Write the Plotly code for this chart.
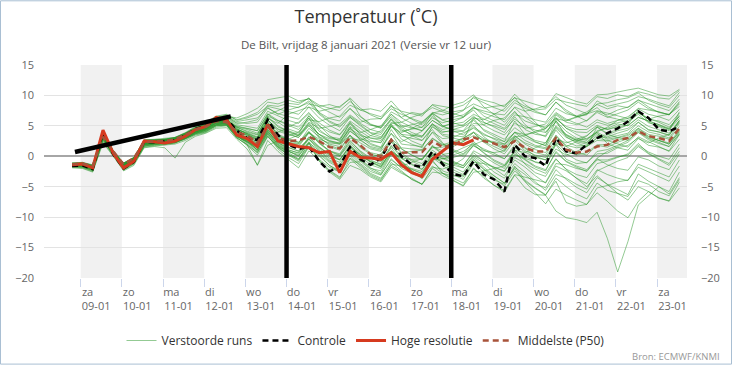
import plotly.graph_objects as go
import pandas as pd

# ---------------- data ----------------
times = pd.date_range("2021-01-08 19:00", periods=60, freq="6h")

hires = [-1.4, -1.25, -1.9, 4.3, 0.5, -1.9, -0.8, 2.5, 2.4, 2.2,
         2.5, 3.3, 4.4, 4.9, 6.4, 6.0, 3.5, 2.9, 1.6, 5.2,
         2.5, 2.0, 1.6, 1.4, 0.6, 0.8, -2.7, 0.8, -0.2, -0.3,
         -0.5, 0.6, -1.4, -2.7, -3.3, -0.5, 0.8, 2.2, 1.9, 2.7]

control = [-1.6, -1.5, -2.1, 3.9, 0.3, -2.0, -0.9, 2.4, 2.3, 2.4, 2.6, 3.4, 4.5, 5.0, 6.2, 6.1, 4.2,
           3.0, 2.7, 6.0, 3.5, 1.9, 1.2, 1.6, -0.8, -2.5, -1.6, 1.5, -0.5, -1.4, -0.3, 2.6, 0.0,
           -1.4, -1.8, 0.8, -1.3, -2.9, -3.3, -0.8, -3.0, -3.8, -5.8, 1.9, 0.0, -0.3, -1.6, 3.0,
           0.8, 0.5, 1.9, 3.0, 3.8, 4.6, 5.7, 7.4, 6.3, 4.4, 4.1, 4.9]

median = [-1.3, -1.2, -1.6, 3.2, 0.8, -1.3, -0.3, 2.3, 2.5, 2.5, 2.8, 3.5, 4.4, 4.9, 5.8, 5.6, 4.0,
          3.4, 2.2, 5.0, 3.0,
          2.5, 2.6, 3.2, 2.5, 1.5, 1.3, 3.0, 1.8, 0.3, 0.0, 2.7, 0.6, 0.6, 0.7, 2.5, 1.5, 1.7,
          2.8, 3.1, 2.5, 2.1, 1.5, 2.5, 1.4, 0.8, 0.8, 3.0, 1.1, 0.6, 0.8, 1.6, 1.9, 2.7, 3.0,
          4.1, 3.3, 3.0, 2.5, 4.6]

m01 = [-1.2,-1.0,-1.5,3.8, 0.9,-1.2,-0.2,2.6, 2.6,2.8,3.0,3.8, 4.8,5.5,6.4,6.8, 6.0,6.5,7.2,8.9,
       8.6,9.2,8.8,9.5, 8.4,7.9,7.5,9.0, 7.6,7.0,6.5,8.2, 7.4,7.0,6.6,8.5, 8.2,7.9,8.4,9.6,
       8.8,8.0,7.4,9.2, 8.2,7.6,7.8,9.4, 8.9,8.5,8.2,9.8, 9.5,10.1,9.8,10.6, 10.2,9.6,9.4,10.8]
m02 = [-1.6,-1.5,-2.0,3.2, 0.4,-1.8,-0.7,2.1, 2.2,2.3,2.6,3.3, 4.2,4.6,5.6,5.9, 4.8,4.0,3.5,6.8,
       7.5,8.3,8.0,9.1, 7.2,6.2,5.8,7.9, 6.0,5.1,4.8,7.3, 6.4,7.2,6.9,8.0, 7.3,6.8,7.5,9.8,
       9.2,8.8,8.1,10.2, 8.5,7.4,6.8,8.9, 7.3,6.5,6.8,9.1, 8.2,8.6,9.0,9.8, 9.4,8.8,8.3,10.5]
m03 = [-1.3,-1.4,-1.9,3.6, 0.7,-1.4,-0.4,2.4, 2.5,2.5,2.8,3.5, 4.4,5.0,6.1,5.8, 4.5,3.8,3.0,6.2,
       5.4,6.9,7.5,8.1, 6.3,5.1,4.2,6.4, 5.2,3.9,3.6,6.0, 4.1,4.4,4.8,6.3, 5.5,6.0,6.4,7.6,
       5.6,4.8,3.9,6.5, 4.4,3.6,3.4,6.8, 5.6,5.2,5.9,7.4, 6.8,7.6,8.1,9.3, 8.1,7.2,6.9,9.0]
m04 = [-1.5,-1.7,-2.3,3.0, 0.3,-2.0,-1.0,1.8, 2.0,2.1,2.3,3.0, 3.9,4.3,5.2,5.4, 3.4,2.2,0.8,3.6,
       1.5,0.2,-0.8,1.6, -0.5,-1.8,-2.6,0.4, -1.2,-2.5,-3.1,-0.4, -2.0,-2.8,-3.5,-0.9, -2.4,-3.0,-3.8,-1.2,
       -2.6,-3.9,-4.6,-1.8, -3.0,-4.5,-5.2,-2.2, -3.8,-5.1,-6.0,-3.5, -4.6,-5.5,-6.3,-2.9, -4.1,-5.0,-5.8,-2.6]
m05 = [-1.7,-1.8,-2.4,2.6, 0.2,-2.2,-1.2,1.6, 1.8,1.9,2.2,2.9, 3.6,4.0,5.0,5.1, 3.2,2.5,1.4,4.0,
       2.4,1.1,0.5,2.8, 0.9,-0.6,-1.4,1.2, -0.4,-1.9,-2.8,0.3, -1.5,-2.6,-3.4,-0.6, -2.8,-3.9,-4.8,-1.9,
       -3.6,-4.8,-5.9,-3.1, -5.2,-6.3,-6.4,-9.0, -10.1,-10.4,-10.9,-9.2, -13.5,-19.0,-14.0,-8.0, -6.5,-5.0,-6.2,-3.5]
m06 = [-1.4,-1.6,-2.1,3.3, 0.5,-1.6,-0.8,2.0, 2.3,2.2,2.5,3.1, 4.0,4.4,5.4,5.6, 3.8,2.9,1.8,4.4,
       2.2,1.0,0.6,3.1, 1.5,0.2,-0.5,1.8, 0.3,-1.0,-1.8,0.9, -0.8,-2.1,-2.9,-0.2, -1.5,-2.6,-3.2,-0.5,
       -2.1,-3.3,-4.4,-1.6, -3.9,-5.2,-6.3,-4.1, -7.6,-8.2,-7.9,-6.0, -7.4,-9.0,-10.1,-7.4, -5.8,-6.9,-7.3,-4.2]
m07 = [-1.1,-1.2,-1.6,3.9, 0.8,-1.1,-0.3,2.5, 2.6,2.7,2.9,3.6, 4.5,5.1,5.9,6.2, 4.6,3.6,2.6,6.0,
       4.1,3.6,3.1,5.4, 3.6,2.4,2.0,4.2, 2.8,1.4,1.0,4.4, 2.0,1.8,1.6,4.0, 2.9,3.1,3.8,4.6,
       3.5,3.0,2.4,3.9, 2.6,1.8,1.4,4.3, 2.4,1.7,1.8,3.0, 3.2,3.8,4.3,5.6, 4.3,4.0,3.4,5.9]
m08 = [-1.5,-1.3,-1.7,3.4, 0.6,-1.4,-0.6,2.2, 2.4,2.3,2.6,3.2, 4.1,4.7,5.7,5.5, 3.9,3.1,1.6,5.3,
       2.6,1.9,1.4,2.8, 1.4,0.4,0.0,2.1, 0.6,-0.8,-1.2,1.8, -0.3,-0.5,-0.4,1.6, 0.3,0.6,1.4,2.1,
       1.2,0.5,-0.4,1.5, 0.1,-1.0,-1.4,1.9, -0.5,-1.2,-1.0,0.4, 0.5,1.4,1.8,3.0, 1.8,1.5,0.9,3.6]
m09 = [-1.3,-1.1,-1.6,3.7, 0.7,-1.3,-0.4,2.6, 2.7,2.8,3.1,3.9, 4.9,5.6,6.6,6.9, 5.9,6.3,6.9,8.2,
       7.8,7.4,6.9,8.6, 8.2,8.5,8.0,9.6, 7.9,6.8,6.1,8.4, 6.3,5.4,4.7,7.1, 7.5,8.4,8.9,10.1,
       8.1,6.9,5.6,7.4, 5.2,3.9,3.2,5.8, 4.1,3.0,2.6,4.2, 4.6,5.3,5.0,6.4, 5.8,5.2,4.6,6.8]
m10 = [-1.6,-1.4,-2.0,3.1, 0.4,-1.7,-0.7,2.0, 2.1,2.2,2.4,3.1, 4.0,4.5,5.5,5.3, 3.5,2.6,1.0,4.2,
       1.8,0.6,-0.4,2.0, 0.2,-1.5,-2.6,-0.3, -1.4,-2.8,-3.6,-1.0, -2.4,-3.8,-4.6,-1.8, -2.1,-1.5,-0.4,1.9,
       2.6,2.2,1.8,3.9, 3.6,3.9,4.5,6.2, 5.8,6.4,6.9,7.5, 7.1,6.6,6.2,7.9, 7.6,7.3,6.8,8.6]
m11 = [-1.2,-1.5,-2.1,3.5, 0.6,-1.6,-0.6,2.3, 2.5,2.6,2.8,3.4, 4.3,4.9,5.9,5.7, 4.2,3.4,2.3,5.1,
       3.9,4.8,5.6,7.2, 5.1,3.4,2.4,4.5, 3.1,1.9,1.4,3.8, 1.2,0.2,-0.6,1.8, 0.4,-0.8,-1.6,0.9,
       0.0,-1.1,-2.0,1.0, 0.6,1.4,2.2,4.8, 3.4,2.6,2.9,4.0, 4.8,5.9,6.2,7.1, 6.2,5.6,4.8,6.5]
m12 = [-1.4,-1.3,-1.8,3.5, 0.6,-1.5,-0.5,2.3, 2.4,2.5,2.7,3.4, 4.4,4.9,5.8,5.9, 4.3,3.2,2.4,5.6,
       3.4,2.8,3.5,5.6, 4.6,4.9,5.3,6.8, 5.6,6.1,6.2,7.8, 6.9,6.2,5.6,7.2, 6.8,7.3,7.6,8.6,
       7.9,8.2,8.4,9.6, 9.1,8.6,8.0,10.3, 9.6,9.0,8.6,10.1, 10.2,10.6,10.9,11.2, 10.6,10.1,9.9,11.0]
m13 = [-1.8,-1.9,-2.5,2.4, 0.1,-2.3,-1.3,1.5, 1.7,1.8,2.0,2.6, 3.5,3.9,4.8,5.0, 3.0,2.0,0.6,3.4,
       1.2,-0.2,-1.2,1.5, 0.6,-0.8,-1.6,1.0, -0.6,-2.0,-2.4,0.5, -1.4,-2.2,-2.8,0.2, -0.4,0.2,0.8,2.0,
       0.5,-0.8,-1.6,0.8, -1.3,-2.7,-3.3,-0.5, -2.1,-3.0,-3.5,-1.2, -0.8,-0.2,0.4,2.1, 0.5,-0.4,-1.2,1.4]
m14 = [-1.3,-1.2,-1.7,3.6, 0.7,-1.3,-0.4,2.4, 2.5,2.4,2.7,3.5, 4.4,4.8,5.9,6.0, 4.4,3.9,3.2,6.6,
       5.8,5.1,4.4,6.3, 4.1,3.2,2.9,5.3, 3.7,2.6,2.2,4.9, 3.3,2.9,2.6,4.8, 3.9,4.4,4.9,5.9,
       4.4,3.6,2.8,4.7, 3.5,2.6,2.2,5.0, 3.6,2.8,2.3,3.7, 2.8,3.1,3.6,5.0, 4.0,3.6,3.0,5.4]
m15 = [-1.5,-1.4,-1.9,3.3, 0.5,-1.6,-0.7,2.2, 2.3,2.4,2.6,3.3, 4.2,4.6,5.6,5.7, 3.7,3.0,2.1,4.8,
       2.9,2.2,1.6,3.8, 2.2,0.9,0.2,2.6, 0.8,-0.6,-1.4,1.4, -0.9,-2.4,-3.7,-1.6, -2.8,-3.6,-4.4,-2.1,
       -3.3,-4.8,-5.6,-3.0, -3.4,-3.9,-4.3,-1.2, -1.4,-2.0,-2.4,-0.3, 0.8,1.6,2.3,3.9, 2.7,2.1,1.6,3.8]
m16 = [-1.1,-1.0,-1.4,3.9, 0.9,-1.1,-0.2,2.7, 2.8,2.9,3.1,3.8, 4.7,5.4,6.4,6.6, 6.3,7.0,7.9,9.3,
       9.6,9.9,9.1,9.4, 8.1,7.2,6.4,7.8, 6.5,5.2,4.6,6.9, 5.1,4.6,4.2,6.6, 5.0,5.3,5.6,6.9,
       6.1,5.3,4.6,6.8, 6.5,6.0,5.6,7.9, 7.0,6.6,7.3,8.5, 7.8,8.3,8.0,9.2, 8.6,8.0,7.5,9.4]
m17 = [-1.9,-2.0,-2.6,2.2, 0.0,-2.4,-1.5,1.4, 1.6,1.4,-0.3,2.3, 3.3,3.8,4.6,4.7, 2.8,1.2,-1.4,2.6,
       0.8,-0.6,-1.9,0.9, -0.8,-2.4,-3.6,-0.4, -1.9,-3.2,-4.0,-1.3, -1.6,-1.0,-0.4,1.4, 1.5,2.2,2.9,4.0,
       2.9,2.1,1.4,3.4, 2.0,1.1,0.6,3.5, 1.6,0.6,0.2,1.8, 1.5,2.3,2.9,4.6, 3.3,2.6,2.0,4.0]
m18 = [-1.2,-1.2,-1.7,3.7, 0.8,-1.2,-0.3,2.5, 2.6,2.7,3.0,3.7, 4.6,5.2,6.2,6.4, 5.2,4.9,4.6,7.4,
       6.6,5.9,5.4,7.0, 5.5,4.3,3.6,5.8, 4.6,3.4,3.0,5.6, 4.8,5.2,5.6,7.0, 5.9,5.5,5.0,6.6,
       5.1,4.2,3.5,5.4, 4.6,4.9,5.3,7.2, 6.1,5.4,4.8,6.0, 5.4,5.9,6.5,7.8, 6.9,6.5,5.9,7.7]
m19 = [-1.6,-1.7,-2.2,3.0, 0.3,-1.9,-0.9,1.9, 2.1,2.0,2.3,2.9, 3.8,4.2,5.1,5.2, 3.1,1.8,0.2,3.2,
       1.6,0.8,0.3,2.4, 0.4,-1.0,-1.9,0.6, -0.8,-2.2,-3.0,-0.6, -1.8,-2.0,-2.5,-0.2, -1.0,-1.4,-1.9,0.2,
       -0.8,-2.0,-3.2,-0.6, -1.8,-3.2,-4.4,-1.6, -2.4,-3.6,-4.5,-2.2, -3.0,-3.6,-4.0,-1.3, -2.0,-2.8,-3.4,-0.6]
m20 = [-1.3,-1.4,-1.9,3.4, 0.6,-1.5,-0.6,2.3, 2.4,2.5,2.8,3.5, 4.3,4.9,5.9,5.9, 4.9,4.6,4.2,6.9,
       5.6,4.5,3.9,6.0, 5.7,6.3,6.6,8.4, 7.6,7.8,7.4,9.1, 7.2,6.1,5.2,6.9, 5.0,4.2,3.5,5.1,
       3.2,2.0,1.1,2.9, 1.3,0.0,-0.6,2.0, 0.4,-0.6,-1.1,0.8, 1.1,1.8,2.6,4.2, 3.2,2.6,2.0,4.1]
m21 = [-1.4,-1.5,-2.0,3.2, 0.5,-1.7,-0.8,2.1, 2.2,2.3,2.5,3.2, 4.1,4.6,5.5,5.6, 3.6,1.9,-1.5,1.8,
       2.6,3.3,4.0,6.3, 3.2,1.8,1.2,3.5, 1.6,0.6,0.2,2.8, 0.6,0.8,1.0,3.0, 1.9,2.4,3.0,3.9,
       2.3,1.2,0.4,2.6, 0.9,0.2,-0.2,2.4, 0.8,0.2,0.6,1.9, 1.9,2.6,3.1,4.4, 3.0,2.6,2.2,4.3]
m22 = [-1.2,-1.1,-1.5,3.8, 0.8,-1.2,-0.3,2.6, 2.7,2.7,3.0,3.7, 4.6,5.3,6.3,6.5, 5.5,5.4,5.6,7.9,
       7.0,6.6,6.1,8.1, 7.4,7.8,8.2,9.4, 6.6,5.3,4.7,6.5, 4.9,3.9,3.3,5.4, 3.6,3.4,3.2,4.8,
       3.7,2.8,2.0,4.0, 3.2,2.3,1.8,4.6, 3.1,2.4,2.0,3.4, 3.5,4.2,4.6,6.0, 4.9,4.4,3.8,5.9]
m23 = [-1.5,-1.4,-1.8,3.4, 0.6,-1.5,-0.6,2.3, 2.4,2.4,2.6,3.3, 4.2,4.7,5.7,5.8, 4.1,3.5,2.9,5.6,
       3.6,2.9,2.3,4.1, 2.3,0.9,0.4,3.0, 2.6,3.4,4.2,6.1, 4.6,3.4,2.6,4.4, 2.2,0.9,0.0,1.7,
       0.9,0.6,0.9,3.2, 3.4,4.1,4.6,6.4, 4.6,3.6,2.8,3.9, 2.1,1.4,1.0,2.9, 2.2,3.0,3.6,5.6]
m24 = [-1.7,-1.6,-2.2,2.9, 0.3,-1.9,-1.0,1.8, 2.0,2.1,2.3,3.0, 3.8,4.3,5.2,5.3, 3.3,2.4,1.3,3.9,
       2.0,0.9,0.0,2.3, -0.8,-2.6,-3.8,-1.5, -2.2,-3.4,-4.2,-1.8, -2.8,-3.6,-4.6,-2.0, -3.2,-4.0,-4.9,-2.6,
       -2.4,-2.0,-1.6,0.4, -0.6,-1.8,-2.4,0.8, -0.8,-1.6,-2.2,-0.4, -1.4,-2.0,-2.3,-0.1, -0.6,-1.6,-2.2,0.4]
m25 = [-1.3,-1.3,-1.8,3.5, 0.6,-1.4,-0.5,2.4, 2.5,2.5,2.8,3.5, 4.4,4.9,5.9,5.8, 4.4,3.7,2.7,5.9,
       4.5,3.9,3.4,5.1, 3.0,2.0,1.6,4.1, 2.9,2.4,2.3,4.9, 3.9,4.6,5.4,7.1, 6.0,6.4,6.8,8.0,
       7.1,6.5,6.0,8.1, 7.4,7.8,8.3,9.8, 8.4,7.7,7.0,8.6, 8.8,9.3,9.6,10.4, 9.2,8.5,8.0,10.0]
m26 = [-1.4,-1.2,-1.7,3.6, 0.7,-1.4,-0.5,2.4, 2.5,2.6,2.9,3.6, 4.5,5.0,6.0,6.1, 4.7,4.2,3.6,6.4,
       4.8,4.2,3.6,6.7, 4.4,3.1,2.6,5.6, 3.5,2.1,1.5,5.2, 2.8,2.0,1.4,5.0, 3.4,3.0,2.6,6.2,
       4.2,3.3,2.4,5.8, 3.6,2.4,1.7,5.9, 3.2,2.2,1.6,4.8, 3.8,4.4,5.2,7.6, 5.6,4.9,4.2,7.3]
m27 = [-1.6,-1.5,-2.0,3.2, 0.4,-1.8,-0.8,2.0, 2.2,2.2,2.4,3.1, 4.0,4.5,5.4,5.5, 3.5,2.7,1.6,4.5,
       2.5,1.5,0.8,3.2, 1.6,0.3,-0.6,1.7, 0.2,-0.9,-1.6,0.8, -0.4,-1.3,-2.1,0.2, -1.1,-2.2,-3.0,-0.6,
       -2.2,-3.6,-4.9,-2.4, -4.1,-5.3,-6.4,-3.6, -5.0,-6.2,-7.0,-4.4, -5.6,-6.1,-6.6,-4.0, -4.6,-5.8,-6.5,-3.8]
m28 = [-1.3,-1.3,-1.7,3.5, 0.7,-1.4,-0.5,2.3, 2.4,2.5,2.7,3.4, 4.3,4.8,5.8,5.7, 4.2,3.5,2.6,5.2,
       3.2,2.7,2.3,3.9, 2.8,2.2,2.0,3.4, 2.2,1.2,0.8,2.9, 1.4,1.2,1.1,2.9, 1.8,2.0,2.4,3.4,
       2.7,2.4,2.0,3.3, 2.2,1.6,1.2,3.3, 1.8,1.4,1.6,2.6, 2.5,3.0,3.4,4.6, 3.6,3.3,2.8,4.9]
m29 = [-1.2,-1.3,-1.8,3.6, 0.7,-1.3,-0.4,2.5, 2.6,2.6,2.9,3.6, 4.5,5.0,6.0,6.1, 4.8,4.4,3.8,6.5,
       5.0,4.1,3.4,5.4, 3.6,2.6,2.1,4.6, 3.4,3.0,2.9,5.4, 5.6,6.4,7.0,8.4, 7.6,7.0,6.5,8.2,
       6.6,5.8,5.1,7.2, 5.8,5.2,4.8,7.0, 5.9,6.5,7.0,8.0, 6.5,6.1,5.6,7.4, 6.1,6.6,6.9,8.2]
m30 = [-1.5,-1.6,-2.1,3.1, 0.4,-1.8,-0.9,2.0, 2.1,2.2,2.4,3.1, 3.9,4.4,5.3,5.4, 3.4,2.6,1.6,4.1,
       2.2,1.4,0.9,2.9, 1.2,0.0,-0.6,1.6, 0.0,-1.4,-2.0,0.6, -1.0,-2.4,-3.4,-0.6, -0.4,-0.2,0.3,1.8,
       0.6,-0.6,-1.4,1.0, -0.5,-1.6,-2.2,0.6, -0.9,-1.8,-2.5,-0.6, -0.6,-0.1,0.2,1.8, 0.7,0.0,-0.5,2.0]
m31 = [-1.4,-1.3,-1.8,3.4, 0.6,-1.5,-0.5,2.3, 2.4,2.4,2.7,3.4, 4.3,4.8,5.8,5.8, 4.0,3.0,2.2,5.6,
       3.4,2.6,2.1,4.6, 3.2,2.5,2.2,4.8, 2.6,1.6,1.2,3.7, 2.4,3.2,4.1,5.9, 4.9,4.4,4.2,6.3,
       6.0,6.9,7.8,9.7, 7.4,5.6,4.0,5.6, 3.5,2.6,2.2,4.0, 3.0,3.4,3.8,5.6, 4.4,4.0,3.5,5.8]
m32 = [-1.6,-1.8,-2.3,2.8, 0.2,-2.1,-1.2,1.7, 1.9,2.0,2.2,2.8, 3.7,4.1,5.0,5.2, 3.2,2.3,1.1,3.7,
       1.9,0.8,0.1,2.2, 0.9,-0.3,-1.0,1.4, 0.3,-0.9,-1.7,0.9, -0.3,-1.4,-2.2,0.4, -0.9,-1.8,-2.6,-0.2,
       -1.8,-3.2,-4.4,-2.0, -4.2,-6.0,-7.8,-5.4, -6.4,-7.2,-7.9,-5.2, -4.8,-4.2,-3.9,-1.8, -2.6,-3.4,-4.1,-1.6]
m33 = [-1.3,-1.2,-1.6,3.7, 0.8,-1.2,-0.3,2.6, 2.6,2.6,2.9,3.6, 4.5,5.1,6.1,6.3, 5.0,4.6,4.2,7.0,
       5.9,5.3,4.8,6.6, 4.9,4.0,3.5,5.5, 4.1,3.0,2.6,5.0, 3.6,3.4,3.3,5.2, 4.1,4.0,4.1,5.4,
       5.2,5.9,6.3,8.0, 6.4,5.3,4.6,6.3, 4.6,4.0,3.9,5.1, 4.4,5.0,5.6,6.9, 5.5,5.0,4.5,6.6]
m34 = [-1.7,-1.7,-2.3,2.7, 0.2,-2.1,-1.1,1.7, 1.9,2.0,2.2,2.9, 3.7,4.1,5.1,5.1, 3.0,1.9,0.6,3.3,
       1.4,0.3,-0.5,1.6, 0.0,-1.5,-2.4,0.1, -1.6,-3.0,-3.8,-1.5, -2.6,-3.8,-4.6,-2.6, -2.8,-3.2,-3.4,-1.0,
       -1.2,-1.8,-2.4,0.2, -0.4,-0.9,-1.3,1.2, 0.2,0.8,1.6,3.0, 2.6,2.0,1.5,3.2, 2.4,1.6,0.8,2.8]
m35 = [-1.2,-1.1,-1.5,3.9, 0.9,-1.1,-0.2,2.7, 2.7,2.8,3.1,3.8, 4.7,5.3,6.3,6.6, 5.7,6.0,6.3,8.0,
       6.9,7.6,8.1,8.8, 6.9,5.6,4.8,6.4, 5.0,3.8,3.2,5.3, 3.6,2.5,1.8,3.9, 2.0,1.1,0.4,2.4,
       1.0,0.2,-0.4,1.9, 0.7,-0.2,-0.6,2.1, 1.6,2.4,3.3,4.9, 4.4,4.8,5.1,6.4, 5.8,5.2,4.4,6.2]
m36 = [-1.5,-1.5,-2.0,3.1, 0.4,-1.8,-0.8,2.0, 2.2,2.3,2.5,3.2, 4.0,4.5,5.5,5.5, 3.6,2.8,1.9,4.7,
       3.0,2.3,1.8,3.9, 2.5,1.6,1.0,3.4, 1.4,0.4,-0.1,2.3, 0.5,-0.6,-1.2,1.0, -0.2,-1.0,-1.5,0.6,
       -0.9,-1.8,-2.5,-0.2, -1.2,-2.1,-2.8,-0.4, -2.2,-3.6,-5.0,-3.2, -4.6,-6.1,-7.2,-5.0, -5.8,-6.8,-7.4,-5.2]
m37 = [-1.3,-1.4,-1.9,3.5, 0.6,-1.5,-0.6,2.3, 2.4,2.4,2.7,3.4, 4.3,4.8,5.8,5.8, 4.4,3.8,3.1,6.0,
       4.4,3.7,3.1,5.0, 3.6,2.9,2.7,4.9, 3.9,4.4,5.0,6.9, 5.6,4.8,4.2,5.9, 4.8,5.6,6.4,7.9,
       7.4,7.0,6.8,8.8, 7.9,7.2,6.8,8.9, 7.6,6.6,5.8,7.2, 6.4,7.0,7.6,8.9, 7.8,7.3,6.8,8.8]
m38 = [-1.4,-1.6,-2.1,3.1, 0.4,-1.7,-0.8,2.0, 2.2,2.3,2.5,3.1, 4.0,4.5,5.4,5.5, 3.5,2.4,1.0,3.8,
       1.6,0.4,-0.6,2.2, -0.6,-2.3,-3.4,-1.0, -0.9,-0.2,0.4,2.4, 1.2,0.2,-0.6,1.6, 0.9,1.6,2.4,3.9,
       2.4,1.6,0.8,3.1, 1.4,0.6,0.2,2.9, 2.2,2.8,3.4,4.8, 3.6,3.1,2.6,4.0, 2.9,2.3,1.6,3.6]
m39 = [-1.1,-1.2,-1.6,3.8, 0.8,-1.2,-0.3,2.5, 2.6,2.7,3.0,3.7, 4.6,5.2,6.2,6.5, 5.4,5.6,6.0,8.4,
       8.2,8.7,8.5,9.6, 7.1,5.8,5.0,6.6, 5.4,4.4,3.9,6.2, 4.3,3.6,3.1,5.3, 4.4,4.8,5.2,6.4,
       5.5,5.0,4.4,6.1, 4.9,4.3,3.9,6.1, 4.9,4.4,4.4,5.6, 5.1,5.5,5.9,7.2, 6.1,5.8,5.2,7.1]
m40 = [-1.6,-1.5,-2.1,3.0, 0.3,-1.9,-1.0,1.9, 2.0,2.1,2.3,3.0, 3.8,4.3,5.2,5.3, 3.3,2.4,1.5,4.3,
       2.8,2.3,2.0,4.0, 2.1,0.8,0.1,2.4, 0.9,-0.3,-0.9,1.6, 0.2,-0.8,-1.6,0.6, -0.4,-1.1,-1.9,0.0,
       -1.2,-2.6,-3.6,-1.2, -2.6,-4.2,-5.6,-3.0, -3.6,-4.6,-5.4,-2.4, -1.6,-0.8,-0.2,1.6, 0.4,-0.6,-1.5,0.8]

members = [m01, m02, m03, m04, m05, m06, m07, m08, m09, m10,
           m11, m12, m13, m14, m15, m16, m17, m18, m19, m20,
           m21, m22, m23, m24, m25, m26, m27, m28, m29, m30,
           m31, m32, m33, m34, m35, m36, m37, m38, m39, m40]
for i, m in enumerate(members):
    assert len(m) == 60, (i + 1, len(m))

weekdays = ["za", "zo", "ma", "di", "wo", "do", "vr", "za", "zo", "ma", "di", "wo", "do", "vr", "za"]
day_labels = ["09-01", "10-01", "11-01", "12-01", "13-01", "14-01", "15-01", "16-01",
              "17-01", "18-01", "19-01", "20-01", "21-01", "22-01", "23-01"]
y_ticks = [-20, -15, -10, -5, 0, 5, 10, 15]

band_starts = ["2021-01-09", "2021-01-11", "2021-01-13", "2021-01-15",
               "2021-01-17", "2021-01-19", "2021-01-21", "2021-01-23"]

# hand-drawn annotation strokes
vline_x = ["2021-01-14 00:00", "2021-01-18 00:00"]
vline_y = [15, -20]
diag_x = ["2021-01-08 20:40", "2021-01-12 15:30"]
diag_y = [0.7, 6.55]

# ---------------- figure ----------------
FONT = "Open Sans, DejaVu Sans, sans-serif"
ens_color = "rgba(40,150,40,0.5)"

fig = go.Figure()
for i, m in enumerate(members):
    fig.add_trace(go.Scatter(x=times, y=m, mode="lines", name="Verstoorde runs",
                             legendgroup="ens", showlegend=(i == 0),
                             line=dict(color=ens_color, width=1), hoverinfo="skip"))

fig.add_trace(go.Scatter(x=times, y=control, mode="lines", name="Controle",
                         line=dict(color="#000000", width=2.5, dash="6px,4px")))
fig.add_trace(go.Scatter(x=times[:len(hires)], y=hires, mode="lines", name="Hoge resolutie",
                         line=dict(color="#d63a1f", width=3)))
fig.add_trace(go.Scatter(x=times, y=median, mode="lines", name="Middelste (P50)",
                         line=dict(color="#a8533a", width=2.5, dash="6px,4px")))

for vx in vline_x:
    fig.add_trace(go.Scatter(x=[vx, vx], y=vline_y, mode="lines", showlegend=False,
                             line=dict(color="#000000", width=4.5), hoverinfo="skip"))
fig.add_trace(go.Scatter(x=diag_x, y=diag_y, mode="lines", showlegend=False,
                         line=dict(color="#000000", width=4.5), hoverinfo="skip"))

# invisible trace to carry the right-hand axis
fig.add_trace(go.Scatter(x=[times[0]], y=[None], yaxis="y2", showlegend=False, hoverinfo="skip"))

shapes = []
for b in band_starts:
    s = pd.Timestamp(b)
    shapes.append(dict(type="rect", xref="x", yref="paper", x0=s, x1=s + pd.Timedelta(days=1),
                       y0=0, y1=1, fillcolor="#f1f1f1", line=dict(width=0), layer="below"))
# outer border of the chart
L, R, T, B, W, H = 44, 45, 65, 87, 732, 366
pw, ph = W - L - R, H - T - B
shapes.append(dict(type="rect", xref="paper", yref="paper",
                   x0=(0.5 - L) / pw, x1=(W - 0.5 - L) / pw,
                   y0=-(B - 0.5) / ph, y1=1 + (T - 0.5) / ph,
                   line=dict(color="#a9bfd3", width=1), layer="above"))

pad = {"za": 6, "zo": 6, "ma": 5, "di": 7, "wo": 5, "do": 6, "vr": 7}
tick_days = pd.date_range("2021-01-09", periods=len(day_labels), freq="D")
tickvals = [d + pd.Timedelta(hours=9) for d in tick_days]
ticktext = [f"{w}{chr(160) * pad[w]}<br>{d}" for w, d in zip(weekdays, day_labels)]

fig.update_layout(
    width=W, height=H,
    margin=dict(l=L, r=R, t=T, b=B),
    paper_bgcolor="white", plot_bgcolor="white",
    font=dict(family=FONT, color="#666666", size=11),
    title=dict(text="Temperatuur (˚C)", x=0.5, xanchor="center", y=1 - 17 / H, yanchor="middle",
               font=dict(size=18, color="#333333", family=FONT)),
    showlegend=True,
    legend=dict(orientation="h", x=0.5, xanchor="center", y=-(337 - 279 - 11) / ph, yanchor="top",
                font=dict(size=12, color="#333333", family=FONT), itemwidth=30,
                bgcolor="rgba(0,0,0,0)"),
    xaxis=dict(type="date", range=["2021-01-08 02:37", "2021-01-23 17:25"],
               tickmode="array", tickvals=tickvals, ticktext=ticktext, ticks="",
               ticklabelstandoff=6,
               showgrid=False, zeroline=False, showline=False,
               tickfont=dict(size=11, color="#666666", family=FONT),
               minor=dict(tickmode="array", tickvals=list(tick_days), ticks="outside",
                          ticklen=8, tickcolor="#ccd6eb", showgrid=False)),
    yaxis=dict(range=[-20, 15], tickmode="array", tickvals=y_ticks, showgrid=True,
               gridcolor="#e3e3e3", gridwidth=1, zeroline=True, zerolinecolor="#a6a6a6",
               zerolinewidth=1.5, showline=False, ticks="", ticklabelstandoff=9,
               tickfont=dict(size=11, color="#666666", family=FONT)),
    yaxis2=dict(range=[-20, 15], overlaying="y", side="right", tickmode="array",
                tickvals=y_ticks, showgrid=False, zeroline=False, showline=False, ticks="",
                ticklabelstandoff=13, tickfont=dict(size=11, color="#666666", family=FONT)),
    shapes=shapes,
    annotations=[
        dict(text="De Bilt, vrijdag 8 januari 2021 (Versie vr 12 uur)", xref="paper", yref="paper",
             x=0.5, y=1 + (T - 44) / ph, xanchor="center", yanchor="middle", showarrow=False,
             font=dict(size=11.5, color="#555555", family=FONT)),
        dict(text="Bron: ECMWF/KNMI", xref="paper", yref="paper",
             x=(722 - L) / pw, y=-(358 - 279) / ph, xanchor="right", yanchor="middle",
             showarrow=False, font=dict(size=9.5, color="#999999", family=FONT)),
    ],
)

fig.write_html("out.html", config={"displayModeBar": False},
               post_script="document.body.style.margin='0';")
